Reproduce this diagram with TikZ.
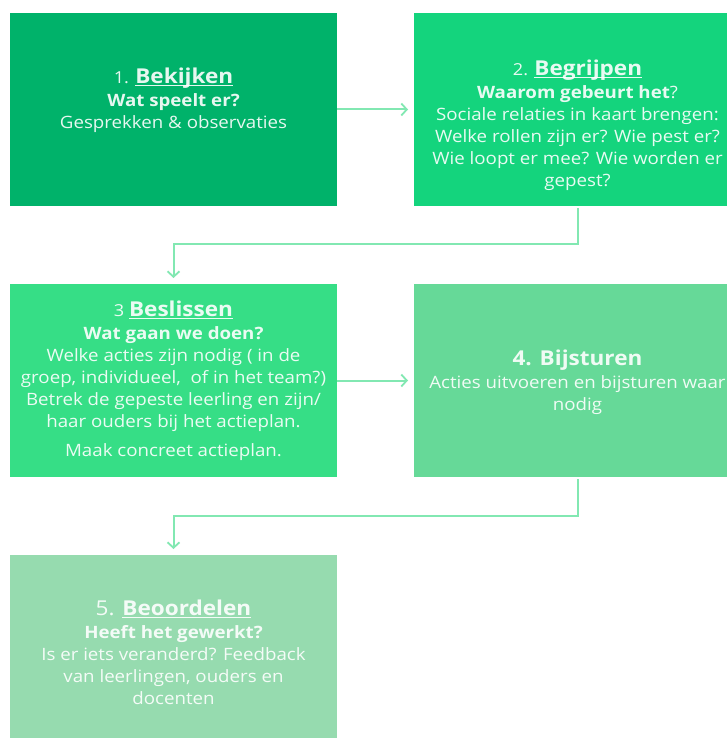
\documentclass[tikz,border=0pt]{standalone}
\usepackage{fontspec}
\setmainfont{Open Sans}[FakeStretch=1.1]
\usetikzlibrary{arrows.meta}
\definecolor{cA}{RGB}{0,178,106}
\definecolor{cB}{RGB}{20,212,125}
\definecolor{cC}{RGB}{54,222,134}
\definecolor{cD}{RGB}{102,217,152}
\definecolor{cE}{RGB}{150,219,175}
\definecolor{cL}{RGB}{130,232,178}
\newcommand\myul[1]{\leavevmode\setbox0\hbox{#1}\rlap{\rule[-2.4pt]{\wd0}{1pt}}\box0}
\newcommand\ttl[2]{{\fontsize{16.5}{22}\selectfont #1}{\fontsize{20.5}{24}\selectfont\bfseries #2}}
\begin{document}
\begin{tikzpicture}[x=1pt,y=-1pt,
  box/.style={inner sep=0pt, outer sep=0pt, anchor=north west, minimum width=327pt, minimum height=193pt},
  txt/.style={align=center, text=white, text opacity=0.9, inner sep=0pt, font=\fontsize{17}{22}\selectfont},
  conn/.style={draw=cL, line width=2pt, -{Straight Barb[length=5.5pt,width=12pt,line width=1.8pt]}}]
\useasboundingbox (0,0) rectangle (727,738);
\clip (0,0) rectangle (727,738);
\fill[white] (0,0) rectangle (727,738);
\node[box, fill=cA] (b1) at (10,13) {};
\node[box, fill=cB] (b2) at (414,13) {};
\node[box, fill=cC] (b3) at (10,284) {};
\node[box, fill=cD] (b4) at (414,284) {};
\node[box, fill=cE] (b5) at (10,555) {};

\node[txt] (t1) at (173.5,100) {\ttl{1. }{\myul{Bekijken}}\\[1pt]
 \textbf{Wat speelt er?}\\
 Gesprekken \& observaties};
\node[txt] (t2) at (577.5,125) {\ttl{2. }{\myul{Begrijpen}}\\[1pt]
 \textbf{Waarom gebeurt het}?\\
 Sociale relaties in kaart brengen:\\
 Welke rollen zijn er? Wie pest er?\\
 Wie loopt er mee? Wie worden er\\
 gepest?};
\node[txt] (t3) at (173.5,381) {\ttl{3 }{\myul{Beslissen}}\\[1pt]
 \textbf{Wat gaan we doen?}\\
 Welke acties zijn nodig ( in de\\
 groep, individueel,\ \ of in het team?)\\
 Betrek de gepeste leerling en zijn/\\
 haar ouders bij het actieplan.\\[7pt]
 Maak concreet actieplan.};
\node[txt] (t4) at (577.5,382) {{\fontsize{20.5}{24}\selectfont\bfseries 4. Bijsturen}\\[1pt]
 Acties uitvoeren en bijsturen waar\\
 nodig};
\node[txt] (t5) at (173.5,652) {{\fontsize{20.5}{24}\selectfont 5. }{\fontsize{20.5}{24}\selectfont\bfseries\myul{Beoordelen}}\\[1pt]
 \textbf{Heeft het gewerkt?}\\
 Is er iets veranderd? Feedback\\
 van leerlingen, ouders en\\
 docenten};

\draw[conn] (b1.east) -- ([xshift=-6pt]b2.west);
\draw[conn] (b3.east) -- ([xshift=-6pt]b4.west);
\draw[conn] ([yshift=-2pt]b2.south) -- ++(0,36) -| ([yshift=6pt]b3.north);
\draw[conn] ([yshift=-2pt]b4.south) -- ++(0,37) -| ([yshift=6pt]b5.north);
\end{tikzpicture}
\end{document}
